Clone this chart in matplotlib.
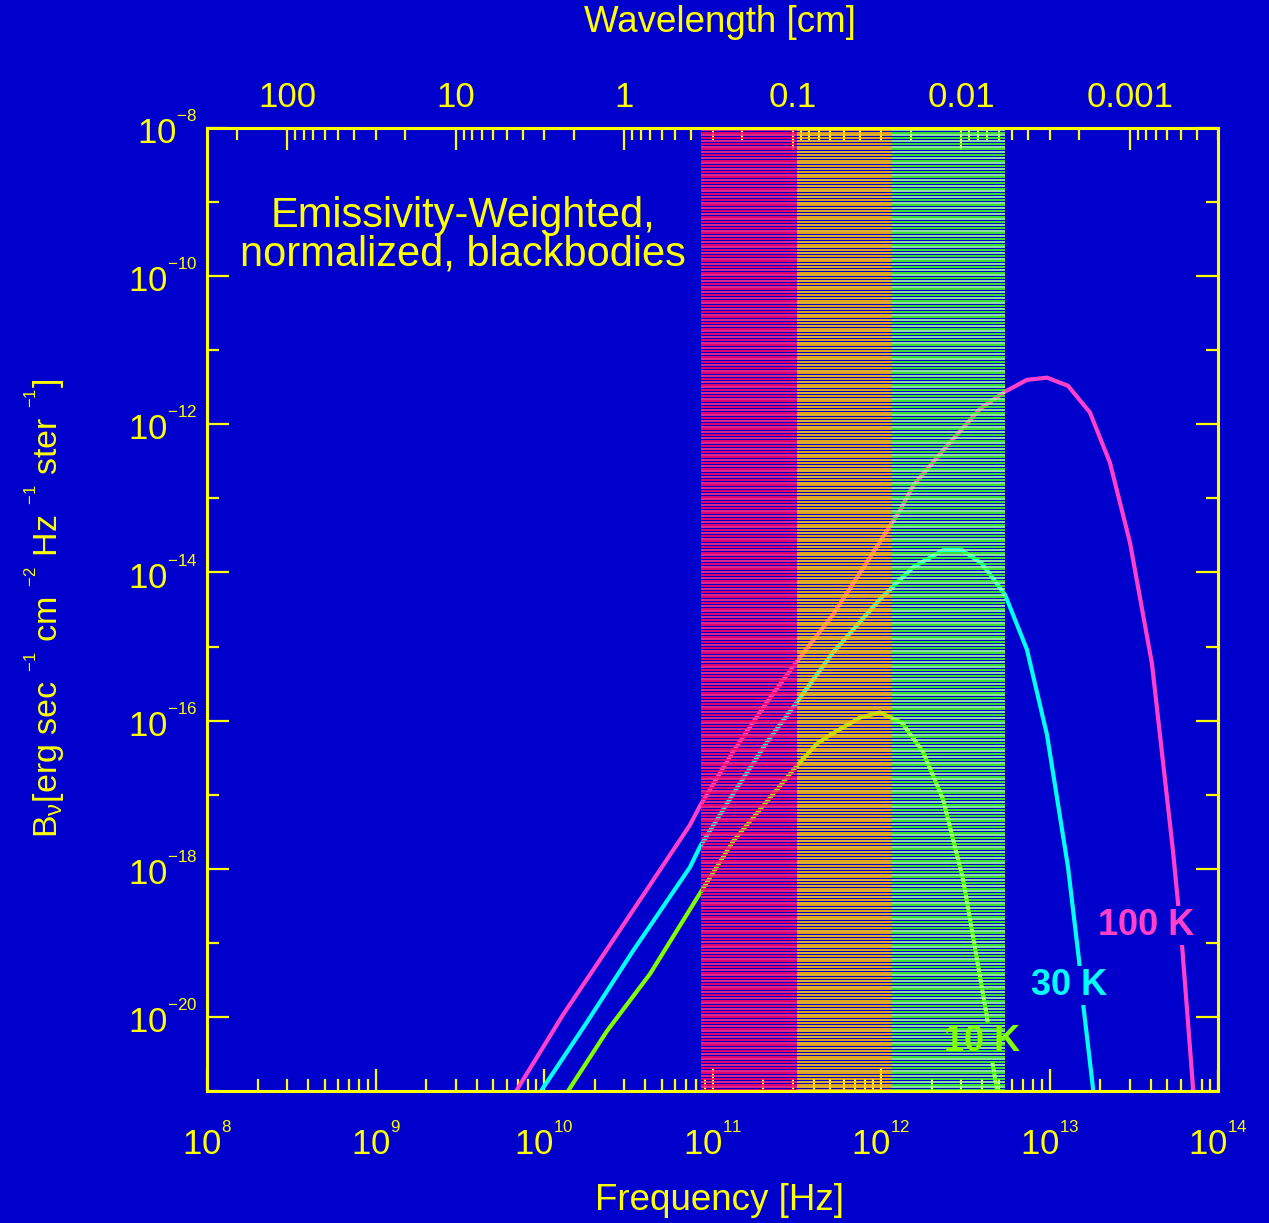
import numpy as np
import matplotlib
matplotlib.use('Agg')
import matplotlib.pyplot as plt
from matplotlib.ticker import FixedLocator, FuncFormatter, LogLocator, NullFormatter
from matplotlib.patches import Rectangle
from matplotlib.transforms import IdentityTransform

plt.rcParams['font.family'] = ['Liberation Sans', 'DejaVu Sans']
plt.rcParams['mathtext.fontset'] = 'custom'
plt.rcParams['mathtext.rm'] = 'Liberation Sans'
plt.rcParams['mathtext.it'] = 'Liberation Sans'
plt.rcParams['mathtext.bf'] = 'Liberation Sans:bold'
plt.rcParams['mathtext.sf'] = 'Liberation Sans'

BG = '#0000CC'
YEL = '#FFFF00'

# ---------------- data (log10 values) ----------------
lognu_100 = [9.80, 10.113, 10.332, 10.611, 10.866, 10.926, 11.122, 11.323, 11.501,
             11.715, 11.917, 12.113, 12.190, 12.392, 12.588, 12.736, 12.866, 12.985,
             13.110, 13.240, 13.359, 13.478, 13.608, 13.733, 13.786, 13.852, 13.87]
logB_100 = [-21.13, -19.97, -19.23, -18.28, -17.41, -17.15, -16.42, -15.75, -15.20,
            -14.57, -13.86, -13.16, -12.83, -12.29, -11.79, -11.56, -11.40, -11.37,
            -11.48, -11.84, -12.52, -13.60, -15.23, -17.76, -19.01, -20.96, -21.3]

lognu_30 = [9.95, 10.255, 10.528, 10.866, 10.926, 11.122, 11.323, 11.501, 11.715,
            11.994, 12.190, 12.368, 12.481, 12.599, 12.736, 12.866, 12.985, 13.110,
            13.175, 13.199, 13.258, 13.27]
logB_30 = [-21.11, -20.07, -19.11, -17.98, -17.70, -16.99, -16.29, -15.75, -15.08,
           -14.36, -13.93, -13.70, -13.70, -13.88, -14.30, -15.04, -16.19, -17.98,
           -19.23, -19.81, -20.96, -21.2]

lognu_10 = [10.12, 10.374, 10.629, 10.926, 11.122, 11.323, 11.501, 11.620, 11.715,
            11.875, 11.994, 12.125, 12.249, 12.368, 12.487, 12.629, 12.659, 12.688, 12.70]
logB_10 = [-21.08, -20.19, -19.42, -18.33, -17.63, -17.09, -16.61, -16.31, -16.17,
           -15.96, -15.89, -16.03, -16.42, -17.06, -18.14, -20.00, -20.57, -20.99, -21.2]

curve_labels = ['100 K', '30 K', '10 K']
curve_colors = ['#FF40CC', '#00FFFF', '#80FF00']

band_edges = [8.55e10, 3.16e11, 1.17e12, 5.44e12]     # Hz
band_colors = [('#FF0060', '#FF2A80'), ('#FFBB00', '#FFC820'), ('#44FF22', '#A0FFA0')]

x_major = [1e8, 1e9, 1e10, 1e11, 1e12, 1e13, 1e14]
y_major = [1e-20, 1e-18, 1e-16, 1e-14, 1e-12, 1e-10, 1e-8]
y_minor = [1e-21, 1e-19, 1e-17, 1e-15, 1e-13, 1e-11, 1e-9]
lam_major = [100, 10, 1, 0.1, 0.01, 0.001]

C_CM = 3.0e10  # speed of light, cm/s

# ---------------- figure ----------------
fig = plt.figure(figsize=(12.69, 12.23), dpi=100, facecolor=BG)
ax = fig.add_axes([207/1269, 1-1091/1223, (1218-207)/1269, (1091-128)/1223])
ax.set_facecolor(BG)
ax.set_xscale('log')
ax.set_yscale('log')
ax.set_xlim(1e8, 1e14)
ax.set_ylim(1e-21, 1e-8)

series = [(lognu_100, logB_100), (lognu_30, logB_30), (lognu_10, logB_10)]
for (lx, ly), col in zip(series, curve_colors):
    ax.plot(10.0**np.array(lx), 10.0**np.array(ly), color=col, lw=3.0, zorder=2)

# striped bands (thin horizontal lines, about 2.8 px apart)
stripe_y = 10.0 ** np.arange(-21.0 + 0.01, -8.0, 13.0 * 2.8 / 963)
for i, (c1, c2) in enumerate(band_colors):
    for ys, c in ((stripe_y[0::2], c1), (stripe_y[1::2], c2)):
        lc = ax.hlines(ys, band_edges[i], band_edges[i+1], colors=c,
                       linewidths=1.25, zorder=3, antialiased=True)
        lc.set_snap(True)

# curve labels
label_pos = [(10**13.573, 10**-18.77), (10**13.116, 10**-19.58), (10**12.60, 10**-20.33)]
texts = []
for lab, col, (px, py) in zip(curve_labels, curve_colors, label_pos):
    t = ax.text(px, py, lab, color=col, fontsize=26, fontweight='bold',
                ha='center', va='center', zorder=5)
    texts.append(t)

ax.text(0.253, 0.889, 'Emissivity-Weighted,\nnormalized, blackbodies',
        transform=ax.transAxes, ha='center', va='center', color=YEL,
        fontsize=30, linespacing=0.95, zorder=5)

# ticks
def sci_fmt(v, pos):
    e = int(round(np.log10(v)))
    return r'$10^{{}^{%d}}$' % e

ax.xaxis.set_major_locator(FixedLocator(x_major))
ax.xaxis.set_minor_locator(LogLocator(base=10, subs=np.arange(2, 10), numticks=30))
ax.xaxis.set_major_formatter(FuncFormatter(sci_fmt))
ax.xaxis.set_minor_formatter(NullFormatter())
ax.yaxis.set_major_locator(FixedLocator(y_major))
ax.yaxis.set_minor_locator(FixedLocator(y_minor))
ax.yaxis.set_major_formatter(FuncFormatter(sci_fmt))
ax.yaxis.set_minor_formatter(NullFormatter())

ax.tick_params(axis='both', which='both', direction='in', color=YEL, labelcolor=YEL,
               width=1.6, labelsize=25)
ax.tick_params(axis='both', which='major', length=16)
ax.tick_params(axis='both', which='minor', length=8.6)
ax.tick_params(axis='x', which='both', top=False, bottom=True, pad=23)
ax.tick_params(axis='y', which='both', left=True, right=True, pad=7)
for sp in ax.spines.values():
    sp.set_color(YEL)
    sp.set_linewidth(2.2)
    sp.set_zorder(6)

def nu2lam(x):
    x = np.asarray(x, dtype=float)
    with np.errstate(divide='ignore', invalid='ignore'):
        return C_CM / x

lam_lo, lam_hi = C_CM / 1e14, C_CM / 1e8
lam_minor = [m * 10.0**d for d in range(-4, 3) for m in range(2, 10)
             if lam_lo < m * 10.0**d < lam_hi]

secax = ax.secondary_xaxis('top', functions=(nu2lam, nu2lam))
secax.xaxis.set_major_locator(FixedLocator(lam_major))
secax.xaxis.set_minor_locator(FixedLocator(lam_minor))
secax.xaxis.set_major_formatter(FuncFormatter(lambda v, p: '%g' % v))
secax.xaxis.set_minor_formatter(NullFormatter())
secax.tick_params(axis='x', which='both', direction='in', color=YEL, labelcolor=YEL,
                  width=1.6, labelsize=25, pad=10)
secax.tick_params(axis='x', which='major', length=16)
secax.tick_params(axis='x', which='minor', length=8.6)
secax.spines['top'].set_color(YEL)
secax.spines['top'].set_linewidth(2.2)

# axis labels
ax.set_xlabel('Frequency [Hz]', color=YEL, fontsize=26.5, va='center')
ax.xaxis.set_label_coords(0.507, (1091-1201)/963)
secax.set_xlabel('Wavelength [cm]', color=YEL, fontsize=26.5, va='center')
secax.xaxis.set_label_coords(0.507, (1091-23)/963, transform=ax.transAxes)
ax.set_ylabel(r'B$_{\nu}$[erg sec $^{{}^{-1}}$ cm $^{{}^{-2}}$ Hz $^{{}^{-1}}$ ster $^{{}^{-1}}$]',
              color=YEL, fontsize=24.5, va='center')
ax.yaxis.set_label_coords((45-207)/1011, (1091-608)/963)

# masks that break the curves behind their labels (under the stripes)
fig.canvas.draw()
renderer = fig.canvas.get_renderer()
for t in texts:
    bb = t.get_window_extent(renderer)
    r = Rectangle((bb.x0 - 3, bb.y0 - 2), bb.width + 6, bb.height + 4,
                  transform=IdentityTransform(), facecolor=BG, edgecolor='none',
                  zorder=2.5)
    r.set_clip_path(ax.patch)
    ax.add_artist(r)

fig.savefig('out.png', dpi=100, facecolor=BG)
